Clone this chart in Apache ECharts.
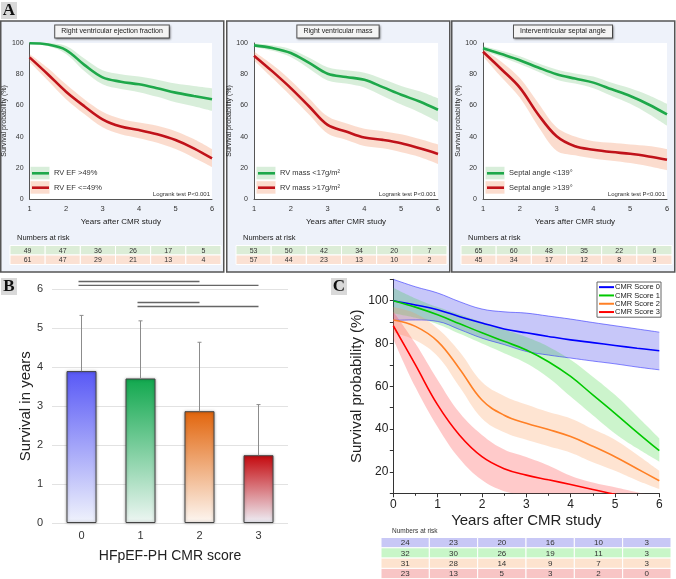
<!DOCTYPE html>
<html><head><meta charset="utf-8">
<script src="https://cdn.jsdelivr.net/npm/echarts@6/dist/echarts.min.js"></script>
<style>html,body{margin:0;padding:0;background:#fff}#c{width:676px;height:579px}</style>
</head><body><div id="c"></div>
<script>
// ---------------- DATA ----------------
// Panel A (x = years after CMR study)
const tA = [1, 1.5, 2, 2.5, 3, 3.5, 4, 4.5, 5, 5.5, 6];
const efHigh   = [99.8, 99, 95.5, 86, 78, 75.2, 73.5, 71, 68.2, 66, 63.9];
const efHighLo = [99.3, 98, 93, 82, 73.5, 70.5, 68.5, 65.5, 62, 59.5, 56.5];
const efHighHi = [100, 100, 98, 90, 82.5, 80, 78.5, 76.5, 74, 72.5, 71];
const efLow    = [90.8, 80, 68.8, 59.5, 51.1, 46.4, 44.2, 41.5, 37.8, 32.5, 26];
const efLowLo  = [88, 76, 64, 54.5, 46, 41.5, 39, 36, 32, 26.5, 20.5];
const efLowHi  = [93, 84, 73.5, 64, 56, 51.5, 49, 47, 43.5, 38.5, 32];

const massLow    = [98.5, 96.8, 93.6, 87.2, 80.3, 78.2, 76.4, 71.7, 66.8, 62.5, 57.2];
const massLowLo  = [97.5, 95, 91, 83.5, 76, 74, 71.5, 66, 60.5, 55.5, 49.5];
const massLowHi  = [99.8, 98.5, 96, 90.5, 84.5, 82.5, 81, 77, 72.5, 69, 64.5];
const massHigh   = [91.9, 81.8, 71.1, 59.3, 47.5, 43.3, 39.4, 37.9, 35.8, 32.5, 28.9];
const massHighLo = [89, 77.5, 66, 54, 42, 38, 34, 32.5, 30, 27, 22.5];
const massHighHi = [94.5, 86, 76, 64.5, 53, 48.5, 45, 43.5, 41.5, 38.5, 35];

const septLow    = [96.6, 92.9, 89, 84.3, 80, 77.2, 74.6, 70.3, 66, 60.6, 54.2];
const septLowLo  = [95, 91, 86.5, 81.5, 76.5, 74, 71, 66, 61, 54.5, 47];
const septLowHi  = [98, 95, 91.5, 87, 83, 80.5, 78.5, 74.5, 71, 66.5, 61];
const septHigh   = [94.4, 83.2, 71.4, 54.2, 40.2, 33.8, 31.6, 30.1, 29, 27.3, 25.2];
const septHighLo = [91.5, 78, 65, 46.5, 31, 28, 26, 24.5, 23, 21, 18.5];
const septHighHi = [96.5, 88, 77.5, 61.5, 46, 40, 37, 36, 35, 34, 32];

const riskEF     = [[49, 47, 36, 26, 17, 5], [61, 47, 29, 21, 13, 4]];
const riskMass   = [[53, 50, 42, 34, 20, 7], [57, 44, 23, 13, 10, 2]];
const riskSeptal = [[65, 60, 48, 35, 22, 6], [45, 34, 17, 12, 8, 3]];

// Panel B
const scoreCats = ['0', '1', '2', '3'];
const survMean  = [3.9, 3.71, 2.87, 1.74];
const survUpper = [5.33, 5.19, 4.64, 3.04];
const sigLines  = [[0, 2, 6.2], [0, 3, 6.1], [1, 2, 5.66], [1, 3, 5.56]];

// Panel C
const tC = [0, 0.5, 1, 1.5, 2, 2.5, 3, 3.5, 4, 4.5, 5, 5.5, 6];
const score0   = [100, 98, 95.8, 92.5, 89.6, 86.8, 85, 83.3, 81.7, 80.4, 79.1, 77.8, 76.6];
const score0Lo = [90.8, 91, 90.3, 86.5, 82.5, 79.5, 76.3, 74.6, 73.2, 71.8, 70.5, 69, 67.7];
const score0Hi = [110, 106.5, 103.6, 99.5, 96.1, 94.8, 94.2, 92.8, 91.4, 89.8, 88.3, 86.8, 85.3];
const score1   = [100, 97, 93.4, 89.2, 85, 81, 77, 71.5, 64.6, 56, 47.4, 38.5, 29.9];
const score1Lo = [94, 92, 89, 84.5, 80, 75.5, 70.8, 64, 55.2, 46.5, 38, 31, 24.8];
const score1Hi = [106, 101, 97, 93.5, 90, 86.5, 83, 78.5, 72.4, 64.5, 56, 46, 35.7];
const score2   = [91, 88, 81, 68, 53.6, 46.5, 42.7, 39.8, 36.5, 32, 27.1, 21.5, 15.9];
const score2Lo = [85, 81.5, 74, 59.5, 45, 38.5, 35, 32, 29, 24.5, 20.5, 16, 12];
const score2Hi = [97, 94, 87, 76, 62, 55.5, 51.5, 48, 45, 40, 35, 28, 20.5];
const score3   = [88.3, 70, 51.3, 37, 27.1, 21.5, 18.5, 16.3, 14.1, 11.8, 9.5, 7.5, 5.5];
const score3Lo = [82, 59.5, 41, 26, 16.2, 11, 9, 7, 5, 3, 2, 1, 0];
const score3Hi = [95, 80, 63, 47.5, 37.3, 30.5, 27, 23, 18.2, 15, 12.8, 10.5, 8.5];
const riskScore = [[24, 23, 20, 16, 10, 3], [32, 30, 26, 19, 11, 3], [31, 28, 14, 9, 7, 3], [23, 13, 5, 3, 2, 0]];
const scoreNames = ['CMR Score 0', 'CMR Score 1', 'CMR Score 2', 'CMR Score 3'];

// ---------------- LAYOUT / STYLE ----------------
const chart = echarts.init(document.getElementById('c'), null, { renderer: 'canvas' });
const FONT = '"Liberation Sans", Arial, sans-serif';
const f = (s) => `${s}px ${FONT}`;
const GREEN = '#1ea84a', RED = '#c0121a';
const GREEN_BAND = 'rgba(60,170,70,0.2)', RED_BAND = 'rgba(240,130,80,0.28)';
const ROW_GREEN = '#dcedd7', ROW_RED = '#fbe1d3';

const panelsA = [
  { title: 'Right ventricular ejection fraction', box: [0, 21, 224, 251], grid: [28, 43, 184, 156],
    names: ['RV EF >49%', 'RV EF <=49%'], good: [efHigh, efHighLo, efHighHi], bad: [efLow, efLowLo, efLowHi],
    risk: riskEF, table: [10, 245.5, 211] },
  { title: 'Right ventricular mass', box: [226, 21, 224, 251], grid: [254, 43, 184, 156],
    names: ['RV mass <17g/m\u00b2', 'RV mass >17g/m\u00b2'], good: [massLow, massLowLo, massLowHi], bad: [massHigh, massHighLo, massHighHi],
    risk: riskMass, table: [236, 245.5, 211] },
  { title: 'Interventricular septal angle', box: [451, 21, 224, 251], grid: [483, 43, 184, 156],
    names: ['Septal angle <139\u00b0', 'Septal angle >139\u00b0'], good: [septLow, septLowLo, septLowHi], bad: [septHigh, septHighLo, septHighHi],
    risk: riskSeptal, table: [461, 245.5, 211] }
];

const zip = (xs, ys) => xs.map((x, i) => [x, ys[i]]);
// [y, x] order so that the stacked dimension is y (value-value cartesian)
const zipYX = (xs, ys) => xs.map((x, i) => [ys[i], x]);
const diff = (hi, lo) => hi.map((v, i) => +(v - lo[i]).toFixed(3));

const grids = [], xAxes = [], yAxes = [], series = [], graphics = [];

function bandPair(idx, xs, lo, hi, color, stack, smooth, edge) {
  const ls = edge ? { color: edge, width: 0.7 } : { opacity: 0, width: 0 };
  series.push({ type: 'line', xAxisIndex: idx, yAxisIndex: idx, data: zipYX(xs, lo), encode: { x: 1, y: 0 },
    stack, smooth, symbol: 'none', lineStyle: ls, silent: true, z: 1 });
  series.push({ type: 'line', xAxisIndex: idx, yAxisIndex: idx, data: zipYX(xs, diff(hi, lo)), encode: { x: 1, y: 0 },
    stack, smooth, symbol: 'none', lineStyle: ls, areaStyle: { color, opacity: 1 }, silent: true, z: 1 });
}

function tableEls(x, y, w, rowH, rows, colors, fs) {
  const cw = w / rows[0].length;
  rows.forEach((r, ri) => r.forEach((v, ci) => {
    graphics.push({ type: 'rect', shape: { x: x + ci * cw, y: y + ri * rowH, width: cw, height: rowH },
      style: { fill: colors[ri], stroke: '#fff', lineWidth: 1 }, z: 10 });
    graphics.push({ type: 'text', x: x + ci * cw + cw / 2, y: y + ri * rowH + rowH / 2 + 0.5,
      style: { text: String(v), fill: '#333', font: f(fs), align: 'center', verticalAlign: 'middle' }, z: 11 });
  }));
}

function panelLabel(x, y, letter) {
  graphics.push({ type: 'rect', shape: { x, y, width: 16, height: 17 }, style: { fill: '#d9d9d9' }, z: 10 });
  graphics.push({ type: 'text', x: x + 8, y: y + 9, style: { text: letter, fill: '#111',
    font: `bold 17px "Liberation Serif", "DejaVu Serif", serif`, align: 'center', verticalAlign: 'middle' }, z: 11 });
}

// ---- Panel A ----
panelsA.forEach((p, i) => {
  const [gl, gt, gw, gh] = p.grid;
  grids.push({ left: gl, top: gt, width: gw, height: gh, show: true, backgroundColor: '#fff', borderWidth: 0 });
  xAxes.push({ gridIndex: i, type: 'value', min: 1, max: 6, interval: 1,
    axisLine: { show: true, lineStyle: { color: '#555', width: 1 } }, axisTick: { show: false }, splitLine: { show: false },
    axisLabel: { fontSize: 7.5, color: '#333', margin: 6, fontFamily: FONT },
    name: 'Years after CMR study', nameLocation: 'middle', nameGap: 19,
    nameTextStyle: { fontSize: 8, color: '#222', fontFamily: FONT } });
  yAxes.push({ gridIndex: i, type: 'value', min: 0, max: 100, interval: 20,
    axisLine: { show: true, lineStyle: { color: '#555', width: 1 } }, axisTick: { show: false }, splitLine: { show: false },
    axisLabel: { fontSize: 7, color: '#333', margin: 6, fontFamily: FONT },
    name: 'Survival probability (%)', nameLocation: 'middle', nameGap: 17,
    nameTextStyle: { fontSize: 7, color: '#222', fontFamily: FONT } });
  bandPair(i, tA, p.good[1], p.good[2], GREEN_BAND, 'ga' + i, 0.35);
  bandPair(i, tA, p.bad[1], p.bad[2], RED_BAND, 'ra' + i, 0.35);
  series.push({ type: 'line', xAxisIndex: i, yAxisIndex: i, data: zip(tA, p.good[0]), smooth: 0.35, symbol: 'none',
    lineStyle: { color: GREEN, width: 2.6 }, z: 3 });
  series.push({ type: 'line', xAxisIndex: i, yAxisIndex: i, data: zip(tA, p.bad[0]), smooth: 0.35, symbol: 'none',
    lineStyle: { color: RED, width: 2.6 }, z: 3 });

  const [bx, by, bw, bh] = p.box;
  graphics.push({ type: 'rect', shape: { x: bx + 0.75, y: by, width: bw - 1, height: bh },
    style: { fill: '#eef2fa', stroke: '#555', lineWidth: 1.5 }, z: -10 });
  graphics.push({ type: 'text', x: bx + bw / 2, y: 31.5, style: { text: p.title, fill: '#222', font: f(7),
    align: 'center', verticalAlign: 'middle', backgroundColor: '#f4f4f4', borderColor: '#555', borderWidth: 1,
    padding: [3, 6, 2, 6], shadowBlur: 2, shadowColor: 'rgba(0,0,0,0.3)', shadowOffsetX: 1, shadowOffsetY: 1 }, z: 12 });
  // legend
  [[GREEN, GREEN_BAND, p.names[0], 173.3], [RED, RED_BAND, p.names[1], 187.7]].forEach(([c, b, n, y]) => {
    graphics.push({ type: 'rect', shape: { x: gl + 2.5, y: y - 6.5, width: 19, height: 12.5 }, style: { fill: b }, z: 12 });
    graphics.push({ type: 'line', shape: { x1: gl + 4, y1: y, x2: gl + 21, y2: y }, style: { stroke: c, lineWidth: 2.6 }, z: 13 });
    graphics.push({ type: 'text', x: gl + 26, y: y, style: { text: n, fill: '#333', font: f(7.5), verticalAlign: 'middle' }, z: 13 });
  });
  graphics.push({ type: 'text', x: gl + gw - 2, y: 194.5, style: { text: 'Logrank test P<0.001', fill: '#333', font: f(6),
    align: 'right', verticalAlign: 'middle' }, z: 13 });
  graphics.push({ type: 'text', x: p.table[0] + 7, y: 238, style: { text: 'Numbers at risk', fill: '#222', font: f(7.5),
    verticalAlign: 'middle' }, z: 13 });
  tableEls(p.table[0], p.table[1], p.table[2], 9.5, p.risk, [ROW_GREEN, ROW_RED], 7);
});

// ---- Panel B ----
const barColors = [['#5858f6', '#f0f3fc'], ['#11a84e', '#eef6f3'], ['#e2650c', '#fdf7f2'], ['#c4080d', '#eef0f7']];
grids.push({ left: 52, top: 289.3, width: 236, height: 233.7 });
xAxes.push({ gridIndex: 3, type: 'category', data: scoreCats, axisLine: { show: false }, axisTick: { show: false },
  axisLabel: { fontSize: 11, color: '#333', margin: 7, fontFamily: FONT },
  name: 'HFpEF-PH CMR score', nameLocation: 'middle', nameGap: 26, nameTextStyle: { fontSize: 14, color: '#222', fontFamily: FONT } });
yAxes.push({ gridIndex: 3, type: 'value', min: 0, max: 6, interval: 1, axisLine: { show: false }, axisTick: { show: false },
  splitLine: { lineStyle: { color: '#e2e2e2', width: 1 } },
  axisLabel: { fontSize: 11, color: '#333', margin: 9, fontFamily: FONT },
  name: 'Survival in years', nameLocation: 'middle', nameGap: 18, nameTextStyle: { fontSize: 15, color: '#222', fontFamily: FONT } });
series.push({ type: 'bar', xAxisIndex: 3, yAxisIndex: 3, barWidth: 30,
  data: survMean.map((v, i) => ({ value: v, itemStyle: {
    color: new echarts.graphic.LinearGradient(0, 0, 0, 1, [{ offset: 0, color: barColors[i][0] }, { offset: 1, color: barColors[i][1] }]),
    borderColor: '#444', borderWidth: 1, shadowBlur: 3, shadowColor: 'rgba(0,0,0,0.35)' } })) , z: 2 });
series.push({ type: 'custom', xAxisIndex: 3, yAxisIndex: 3, clip: false, z: 4,
  data: survMean.map((m, i) => [i, m, survUpper[i]]),
  renderItem: (params, api) => {
    const a = api.coord([api.value(0), api.value(1)]);
    const b = api.coord([api.value(0), api.value(2)]);
    return { type: 'group', children: [
      { type: 'line', shape: { x1: a[0], y1: a[1], x2: b[0], y2: b[1] }, style: { stroke: '#8c8c8c', lineWidth: 1 } },
      { type: 'line', shape: { x1: b[0] - 2, y1: b[1], x2: b[0] + 2, y2: b[1] }, style: { stroke: '#8c8c8c', lineWidth: 1 } }
    ] };
  } });
series.push({ type: 'custom', xAxisIndex: 3, yAxisIndex: 3, clip: false, z: 4,
  data: sigLines,
  renderItem: (params, api) => {
    const a = api.coord([api.value(0), api.value(2)]);
    const b = api.coord([api.value(1), api.value(2)]);
    return { type: 'line', shape: { x1: a[0] - 3, y1: a[1], x2: b[0], y2: b[1] }, style: { stroke: '#666', lineWidth: 1.4 } };
  } });
panelLabel(1, 278, 'B');

// ---- Panel C ----
const cColors = ['#0000ff', '#00c800', '#ff8026', '#ff0000'];
const cBands = ['rgba(70,70,235,0.3)', 'rgba(40,210,40,0.24)', 'rgba(250,150,80,0.26)', 'rgba(255,80,80,0.3)'];
const cData = [[score0, score0Lo, score0Hi], [score1, score1Lo, score1Hi], [score2, score2Lo, score2Hi], [score3, score3Lo, score3Hi]];
grids.push({ left: 393.3, top: 279.3, width: 266, height: 214 });
xAxes.push({ gridIndex: 4, type: 'value', min: 0, max: 6, interval: 1,
  axisLine: { show: true, lineStyle: { color: '#333', width: 1 } },
  axisTick: { show: true, length: 4, lineStyle: { color: '#333' } },
  minorTick: { show: true, splitNumber: 2, length: 2.5, lineStyle: { color: '#333' } },
  splitLine: { show: false }, axisLabel: { fontSize: 12, color: '#222', margin: 5, fontFamily: FONT },
  name: 'Years after CMR study', nameLocation: 'middle', nameGap: 20, nameTextStyle: { fontSize: 15, color: '#222', fontFamily: FONT } });
yAxes.push({ gridIndex: 4, type: 'value', min: 10, max: 110, interval: 10,
  axisLine: { show: true, lineStyle: { color: '#333', width: 1 } },
  axisTick: { show: true, length: 3.5, lineStyle: { color: '#333' } },
  splitLine: { show: false },
  axisLabel: { fontSize: 12, color: '#222', margin: 5, fontFamily: FONT,
    formatter: (v) => (v % 20 === 0 && v <= 100 ? String(v) : '') },
  name: 'Survival probability (%)', nameLocation: 'middle', nameGap: 26, nameTextStyle: { fontSize: 15, color: '#222', fontFamily: FONT } });
cData.forEach((d, k) => bandPair(4, tC, d[1], d[2], cBands[k], 'cb' + k, 0.4, k === 0 ? 'rgba(40,40,255,0.8)' : null));
cData.forEach((d, k) => series.push({ type: 'line', name: scoreNames[k], xAxisIndex: 4, yAxisIndex: 4, data: zip(tC, d[0]),
  smooth: 0.4, symbol: 'none', lineStyle: { color: cColors[k], width: 1.6 }, itemStyle: { color: cColors[k] }, z: 3 }));
panelLabel(331, 278, 'C');
graphics.push({ type: 'text', x: 392, y: 531, style: { text: 'Numbers at risk', fill: '#333', font: f(6.5), verticalAlign: 'middle' }, z: 13 });
tableEls(381, 537.5, 290, 10.3, riskScore, ['#c8c8f6', '#c8f6c8', '#fde3cf', '#f8c5c5'], 8);

panelLabel(1, 2, 'A');

chart.setOption({
  animation: false,
  textStyle: { fontFamily: FONT },
  grid: grids, xAxis: xAxes, yAxis: yAxes, series,
  legend: { data: scoreNames.map((n) => ({ name: n, icon: 'rect' })), orient: 'vertical', left: 597, top: 282,
    itemWidth: 15, itemHeight: 2, itemGap: 0, padding: [1, 1, 1, 2], borderColor: '#666', borderWidth: 1,
    backgroundColor: '#fff', textStyle: { fontSize: 7.5, lineHeight: 8.3, color: '#222', padding: [0, 0, 0, -4] }, selectedMode: false },
  graphic: { elements: graphics }
});
</script></body></html>
